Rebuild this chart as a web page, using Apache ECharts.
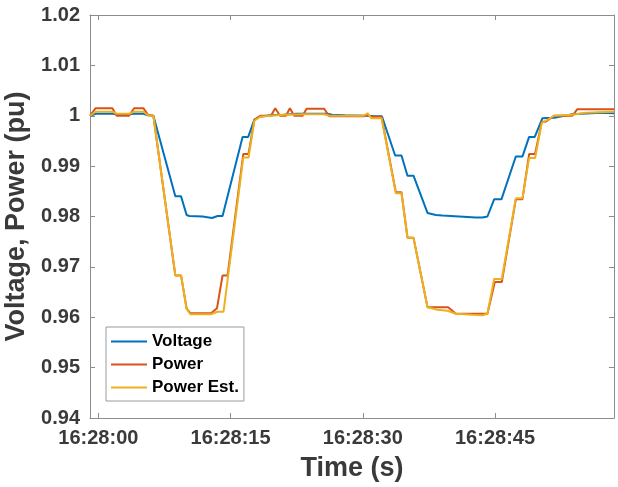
<!DOCTYPE html>
<html>
<head>
<meta charset="utf-8">
<script src="https://cdn.jsdelivr.net/npm/echarts@6/dist/echarts.min.js"></script>
<style>
  html, body { margin: 0; padding: 0; background: #fff; }
  #main { width: 618px; height: 487px; }
</style>
</head>
<body>
<div id="main"></div>
<script>
// time in seconds after 16:28:00
var tickSeconds = [0, 15, 30, 45];
var tickLabels = ["16:28:00", "16:28:15", "16:28:30", "16:28:45"];

var voltageT = [-0.95, -0.3, 1.6, 2.1, 3.5, 4.05, 5.1, 5.63, 6.24, 8.73, 9.38, 10.01, 10.32, 11.83, 12.89, 13.53, 14.09, 16.36, 17.0, 17.69, 18.25, 19.5, 21.0, 22.5, 26.0, 26.5, 28.0, 30.5, 31.3, 32.17, 33.67, 34.39, 35.07, 35.75, 37.34, 38.29, 39.04, 40.93, 42.82, 43.57, 44.14, 44.9, 45.73, 47.36, 48.11, 48.87, 49.51, 50.37, 51.7, 53.78, 57.0, 58.5];
var voltageV = [1.0000, 1.0004, 1.0004, 1.0003, 1.0003, 1.0004, 1.0004, 1.0001, 1.0000, 0.9840, 0.9840, 0.9803, 0.9801, 0.9800, 0.9797, 0.9801, 0.9801, 0.9958, 0.9958, 0.9992, 0.9998, 1.0001, 1.0002, 1.0004, 1.0004, 1.0002, 1.0001, 1.0000, 0.9999, 0.9999, 0.9921, 0.9921, 0.9881, 0.9881, 0.9807, 0.9803, 0.9802, 0.9800, 0.9798, 0.9798, 0.9800, 0.9834, 0.9834, 0.9919, 0.9919, 0.9958, 0.9958, 0.9995, 0.9996, 1.0003, 1.0006, 1.0005];

var powerT = [-0.95, -0.31, 1.59, 2.07, 3.48, 4.05, 5.1, 5.63, 6.24, 8.73, 9.38, 10.01, 10.43, 12.78, 13.46, 14.09, 14.66, 16.44, 17.04, 17.69, 18.37, 19.58, 20.07, 20.6, 21.28, 21.73, 22.22, 23.17, 23.62, 25.62, 26.19, 30.1, 30.53, 30.97, 32.13, 33.75, 34.39, 35.07, 35.75, 37.34, 39.68, 40.56, 44.14, 44.98, 45.77, 47.36, 48.11, 48.87, 49.55, 50.31, 50.76, 51.7, 53.78, 54.34, 58.5];
var powerV = [1.0000, 1.0015, 1.0015, 1.0000, 1.0000, 1.0015, 1.0015, 1.0002, 1.0000, 0.9683, 0.9683, 0.9617, 0.9608, 0.9608, 0.9618, 0.9683, 0.9683, 0.9924, 0.9924, 0.9992, 1.0000, 1.0000, 1.0015, 1.0000, 1.0000, 1.0015, 1.0000, 1.0000, 1.0014, 1.0014, 0.9999, 0.9999, 1.0002, 0.9998, 0.9998, 0.9848, 0.9848, 0.9758, 0.9758, 0.9620, 0.9620, 0.9607, 0.9607, 0.9670, 0.9670, 0.9834, 0.9834, 0.9924, 0.9924, 0.9988, 0.9988, 1.0000, 1.0000, 1.0013, 1.0013];

var estT = [-0.95, -0.3, 1.6, 2.1, 3.5, 4.05, 5.1, 5.63, 6.24, 8.73, 9.38, 10.01, 10.43, 12.78, 12.93, 13.53, 14.2, 16.44, 17.04, 17.69, 18.37, 19.6, 21.0, 23.5, 25.6, 26.2, 30.1, 30.53, 30.97, 32.13, 33.75, 34.39, 35.07, 35.75, 37.34, 38.47, 39.6, 40.56, 42.44, 43.57, 44.14, 44.9, 45.77, 47.36, 48.11, 48.87, 49.55, 50.31, 50.76, 51.7, 53.78, 55.29, 58.5];
var estV = [1.0000, 1.0008, 1.0008, 1.0004, 1.0004, 1.0008, 1.0008, 1.0001, 1.0000, 0.9683, 0.9683, 0.9617, 0.9606, 0.9606, 0.9603, 0.9611, 0.9611, 0.9917, 0.9917, 0.9990, 0.9998, 1.0000, 1.0002, 1.0003, 1.0003, 1.0000, 1.0000, 1.0005, 0.9995, 0.9995, 0.9846, 0.9846, 0.9758, 0.9758, 0.9620, 0.9615, 0.9613, 0.9607, 0.9605, 0.9604, 0.9607, 0.9676, 0.9676, 0.9836, 0.9836, 0.9916, 0.9916, 0.9986, 0.9990, 1.0000, 1.0002, 1.0006, 1.0008];

function pairs(t, v) {
  return t.map(function (x, i) { return [x, v[i]]; });
}

var font = "'Liberation Sans', Arial, Helvetica, sans-serif";
var axisGray = "#8c8c8c";
var textGray = "#3a3a3a";

var chartDom = document.getElementById("main");
var myChart = echarts.init(chartDom, null, { renderer: "canvas" });

var option = {
  animation: false,
  color: ["#0072BD", "#D95319", "#EDB120"],
  grid: { left: 90, right: 4, top: 15, bottom: 69, outerBoundsMode: "none" },
  legend: {
    orient: "vertical",
    left: 106,
    top: 327,
    icon: "rect",
    itemWidth: 36,
    itemHeight: 2,
    itemGap: 6,
    padding: [6, 5, 5, 5],
    backgroundColor: "#fff",
    borderColor: "#9a9a9a",
    borderWidth: 1,
    borderRadius: 0,
    textStyle: { fontFamily: font, fontWeight: "bold", fontSize: 17, color: "#000", lineHeight: 17 },
    data: ["Voltage", "Power", "Power Est."],
  },
  xAxis: [
    {
      type: "value",
      min: -0.95,
      max: 58.5,
      name: "Time (s)",
      nameLocation: "middle",
      nameGap: 37,
      nameTextStyle: { fontFamily: font, fontWeight: "bold", fontSize: 27, color: textGray },
      axisLine: { show: true, onZero: false, lineStyle: { color: axisGray, width: 1 } },
      axisTick: { show: true, inside: true, length: 5, customValues: tickSeconds, lineStyle: { color: axisGray } },
      axisLabel: {
        customValues: tickSeconds,
        margin: 10,
        fontFamily: font,
        fontWeight: "bold",
        fontSize: 20,
        color: textGray,
        formatter: function (val) {
          return tickLabels[tickSeconds.indexOf(Math.round(val))];
        },
      },
      splitLine: { show: false },
    },
    {
      type: "value",
      position: "top",
      min: -0.95,
      max: 58.5,
      axisLine: { show: true, onZero: false, lineStyle: { color: axisGray, width: 1 } },
      axisTick: { show: true, inside: true, length: 5, customValues: tickSeconds, lineStyle: { color: axisGray } },
      axisLabel: { show: false },
      splitLine: { show: false },
    },
  ],
  yAxis: [
    {
      type: "value",
      min: 0.94,
      max: 1.02,
      interval: 0.01,
      name: "Voltage, Power (pu)",
      nameLocation: "middle",
      nameRotate: 90,
      nameGap: 54,
      nameTextStyle: { fontFamily: font, fontWeight: "bold", fontSize: 27, color: textGray },
      axisLine: { show: true, onZero: false, lineStyle: { color: axisGray, width: 1 } },
      axisTick: { show: true, inside: true, length: 5, lineStyle: { color: axisGray } },
      axisLabel: {
        margin: 10,
        fontFamily: font,
        fontWeight: "bold",
        fontSize: 20,
        color: textGray,
        formatter: function (val) {
          return String(parseFloat(val.toFixed(2)));
        },
      },
      splitLine: { show: false },
    },
    {
      type: "value",
      position: "right",
      min: 0.94,
      max: 1.02,
      interval: 0.01,
      axisLine: { show: true, onZero: false, lineStyle: { color: axisGray, width: 1 } },
      axisTick: { show: true, inside: true, length: 5, lineStyle: { color: axisGray } },
      axisLabel: { show: false },
      splitLine: { show: false },
    },
  ],
  series: [
    {
      name: "Voltage",
      type: "line",
      showSymbol: false,
      lineStyle: { width: 2 },
      data: pairs(voltageT, voltageV),
    },
    {
      name: "Power",
      type: "line",
      showSymbol: false,
      lineStyle: { width: 2 },
      data: pairs(powerT, powerV),
    },
    {
      name: "Power Est.",
      type: "line",
      showSymbol: false,
      lineStyle: { width: 2 },
      data: pairs(estT, estV),
    },
  ],
};

option && myChart.setOption(option);
</script>
</body>
</html>
